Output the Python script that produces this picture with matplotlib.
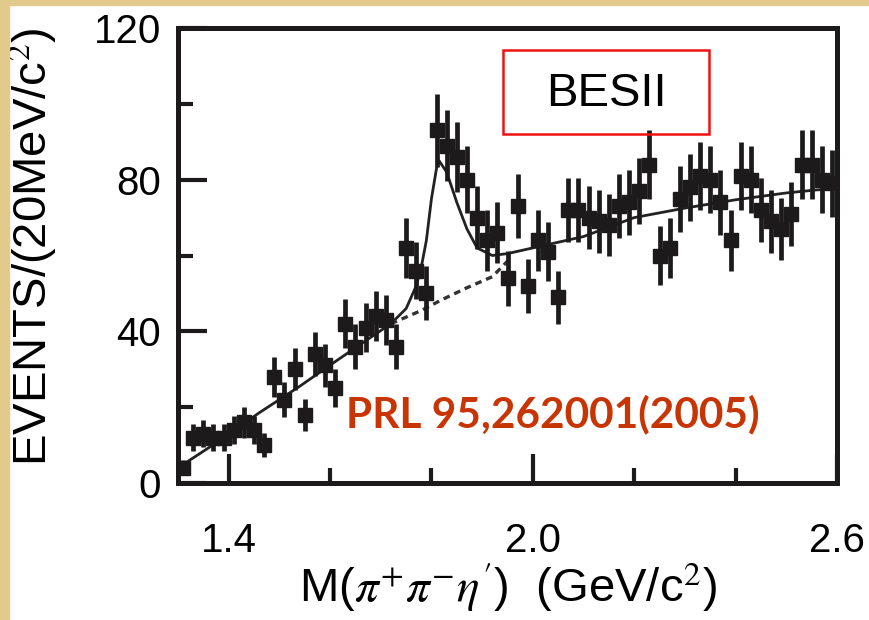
import matplotlib
matplotlib.use("Agg")
import matplotlib.pyplot as plt
from matplotlib.patches import Rectangle

plt.rcParams['font.family'] = ['Liberation Sans', 'DejaVu Sans']
plt.rcParams['mathtext.fontset'] = 'stix'

# bin centres (GeV/c^2), 20 MeV bins
mass = [1.31, 1.33, 1.35, 1.37, 1.39, 1.41, 1.43, 1.45, 1.47, 1.49,
        1.51, 1.53, 1.55, 1.57, 1.59, 1.61, 1.63, 1.65, 1.67, 1.69,
        1.71, 1.73, 1.75, 1.77, 1.79, 1.81, 1.83, 1.85, 1.87, 1.89,
        1.91, 1.93, 1.95, 1.97, 1.99, 2.01, 2.03, 2.05, 2.07, 2.09,
        2.11, 2.13, 2.15, 2.17, 2.19, 2.21, 2.23, 2.25, 2.27, 2.29,
        2.31, 2.33, 2.35, 2.37, 2.39, 2.41, 2.43, 2.45, 2.47, 2.49,
        2.51, 2.53, 2.55, 2.57, 2.59]
counts = [4, 12, 13, 12, 12, 14, 16, 14, 10, 28,
          22, 30, 18, 34, 31, 25, 42, 36, 41, 44,
          43, 36, 62, 56, 50, 93, 89, 86, 80, 70,
          64, 66, 54, 73, 52, 64, 61, 49, 72, 72,
          70, 69, 68, 73, 74, 77, 84, 60, 62, 75,
          78, 81, 80, 74, 64, 81, 80, 72, 69, 67,
          71, 84, 84, 80, 79]
errors = [2.0, 3.5, 3.6, 3.5, 3.5, 3.7, 4.0, 3.7, 3.2, 5.3,
          4.7, 5.5, 4.2, 5.8, 5.6, 5.0, 6.5, 6.0, 6.4, 6.6,
          6.6, 6.0, 7.9, 7.5, 7.1, 9.6, 9.4, 9.3, 8.9, 8.4,
          8.0, 8.1, 7.3, 8.5, 7.2, 8.0, 7.8, 7.0, 8.5, 8.5,
          8.4, 8.3, 8.2, 8.5, 8.6, 8.8, 9.2, 7.7, 7.9, 8.7,
          8.8, 9.0, 8.9, 8.6, 8.0, 9.0, 8.9, 8.5, 8.3, 8.2,
          8.4, 9.2, 9.2, 8.9, 8.9]

# fit curve (signal + background)
fit_x = [1.30, 1.38, 1.46, 1.54, 1.61, 1.67, 1.72, 1.75, 1.77, 1.78,
         1.79, 1.80, 1.81, 1.815, 1.83, 1.85, 1.87, 1.89, 1.92, 1.95,
         2.00, 2.05, 2.10, 2.20, 2.30, 2.40, 2.50, 2.56, 2.60]
fit_y = [4, 11, 18.5, 25.5, 32, 37.5, 42, 46, 52, 57,
         64, 75, 83, 85, 82, 74, 67, 62, 60, 60.5,
         62, 63.5, 65, 70, 72.5, 74.7, 76.5, 77.3, 77.6]
# background only under the peak (dashed)
bg_x = [1.72, 1.78, 1.82, 1.87, 1.92, 1.95]
bg_y = [42, 45.5, 48.3, 51.5, 54.4, 58.5]

fig = plt.figure(figsize=(8.69, 6.20), dpi=100)
fig.patch.set_facecolor('white')
# parchment strips along the top and left edges
fig.patches.append(Rectangle((0, 1 - 5 / 620), 1, 5 / 620, transform=fig.transFigure,
                             color='#e2c98c', zorder=0))
fig.patches.append(Rectangle((0, 0), 9 / 869, 1, transform=fig.transFigure,
                             color='#e2c98c', zorder=0))

ax = fig.add_axes([178 / 869, 1 - 483 / 620, 659 / 869, 455 / 620])

ax.plot(fit_x, fit_y, color='#222222', lw=2.0, zorder=2)
ax.plot(bg_x, bg_y, color='#333333', lw=2.4, ls=(0, (2, 1.5)), zorder=2)
ax.errorbar(mass, counts, yerr=errors, fmt='s', color='#1c1a1a', ms=10.5,
            elinewidth=3.4, capsize=0, zorder=3)

ax.set_xlim(1.30, 2.60)
ax.set_ylim(0, 120)
ax.set_xticks([1.4, 2.0, 2.6])
ax.set_xticklabels(['1.4', '2.0', '2.6'])
ax.set_xticks([1.6, 1.8, 2.2, 2.4], minor=True)
ax.set_yticks([0, 40, 80, 120])
ax.set_yticks([20, 60, 100], minor=True)
ax.tick_params(which='both', direction='in', width=3, color='#1c1a1a',
               top=False, right=False)
ax.tick_params(which='major', length=21, labelsize=29)
ax.tick_params(which='minor', length=11)
ax.tick_params(axis='x', which='major', pad=28)
ax.tick_params(axis='y', which='major', pad=12)
for s in ax.spines.values():
    s.set_linewidth(3.6)
    s.set_color('#1c1a1a')

ax.set_ylabel('EVENTS/(20MeV/c$^2$)', fontsize=34)
ax.yaxis.set_label_coords(-0.18, 0.52)
ax.set_xlabel(r'M($\pi^{+}\pi^{-}\eta^{\prime}$)  (GeV/c$^2$)', fontsize=34)
ax.xaxis.set_label_coords(0.50, -0.17)

ax.add_patch(Rectangle((0.493, 0.768), 0.313, 0.183, transform=ax.transAxes,
                       fill=False, edgecolor='#ee1111', lw=1.8, zorder=4))
ax.text(0.65, 0.856, 'BESII', transform=ax.transAxes, fontsize=34,
        ha='center', va='center', zorder=5)
ax.text(0.569, 0.150, 'PRL 95,262001(2005)', transform=ax.transAxes,
        fontsize=30.5, fontweight='bold', family='Lato', color='#c83505',
        ha='center', va='center', zorder=5)

fig.savefig('out.png', dpi=100, facecolor=fig.get_facecolor())
